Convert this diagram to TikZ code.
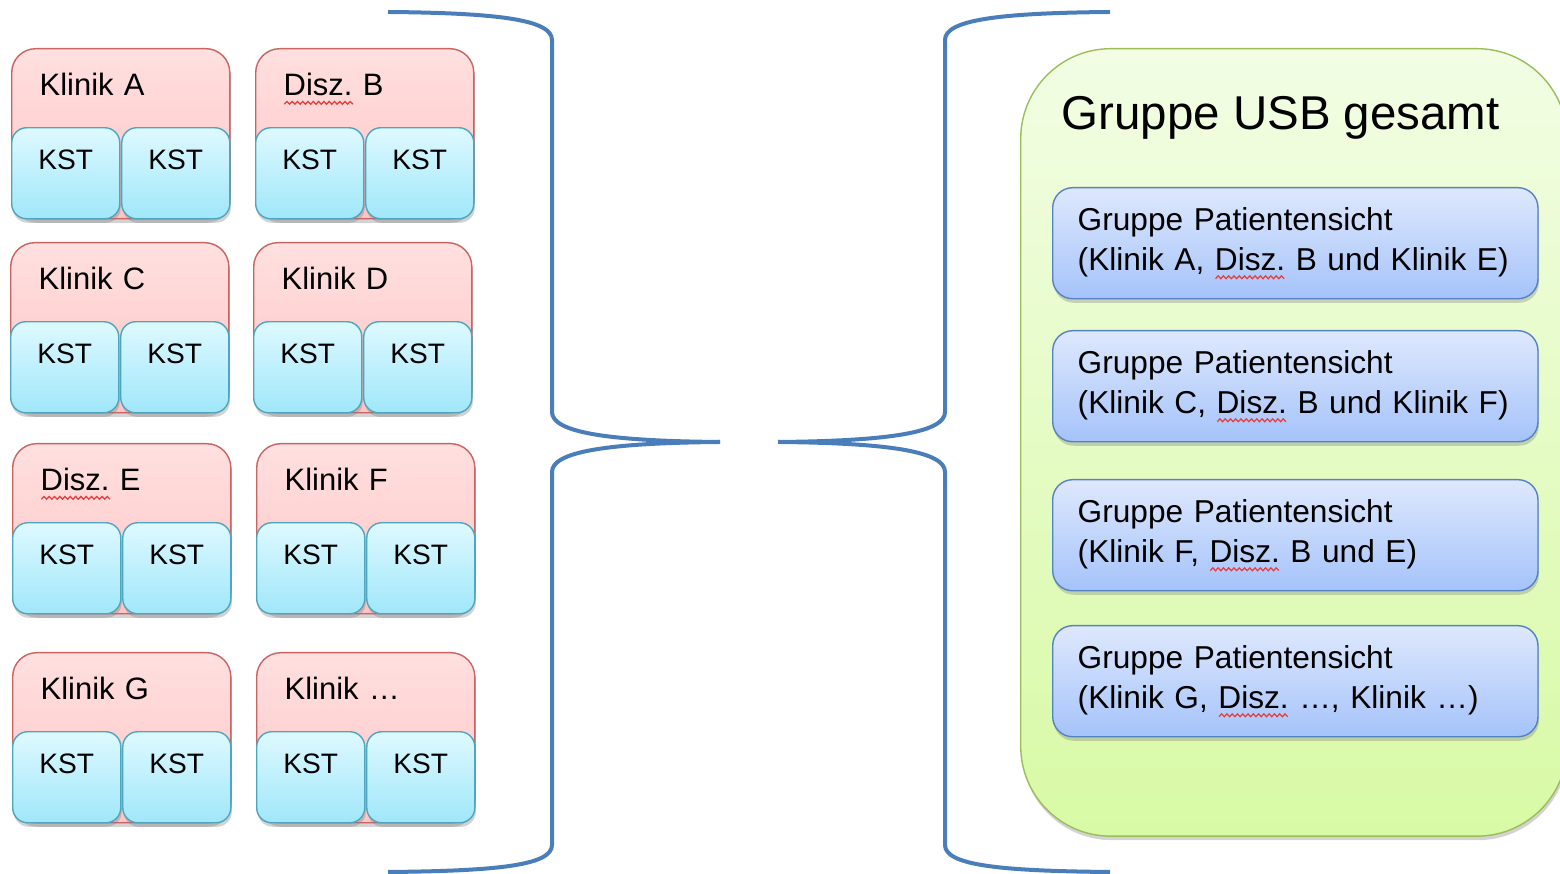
\documentclass[tikz,border=0pt]{standalone}
\usepackage{tikz}
\usepackage{xcolor}
\usepackage{fontspec}
\setmainfont{Liberation Sans}
\usetikzlibrary{positioning, shadows}

\definecolor{klinikoben}{RGB}{255,224,224}
\definecolor{klinikunten}{RGB}{255,196,196}
\definecolor{klinikrand}{RGB}{200,100,98}
\definecolor{kstoben}{RGB}{222,249,255}
\definecolor{kstunten}{RGB}{160,231,250}
\definecolor{kstrand}{RGB}{80,165,190}
\definecolor{gruppeoben}{RGB}{222,232,253}
\definecolor{gruppeunten}{RGB}{165,195,250}
\definecolor{grupperand}{RGB}{85,130,195}
\definecolor{usboben}{RGB}{242,253,228}
\definecolor{usbunten}{RGB}{216,250,165}
\definecolor{usbrand}{RGB}{155,190,90}
\definecolor{klammerblau}{RGB}{74,126,187}
\definecolor{spellrot}{RGB}{230,60,60}

% rote Wellenlinie unter einem Wort
\newsavebox\wellenbox
\sbox\wellenbox{\begin{pgfpicture}
    \pgfsetcolor{spellrot}\pgfsetlinewidth{0.35pt}
    \pgfpathmoveto{\pgfpoint{0pt}{-0.4pt}}
    \foreach \i in {1,...,26}{\pgfpathlineto{\pgfpoint{\i*0.75pt}{(mod(\i,2)-0.5)*0.8pt}}}
    \pgfusepath{stroke}
\end{pgfpicture}}
\newcommand\spell[1]{\rlap{\raisebox{-2.6pt}{\usebox\wellenbox}}#1}
\frenchspacing

\begin{document}
\begin{tikzpicture}[x=0.01cm, y=-0.01cm,
    schatten/.style={drop shadow={shadow xshift=0.01cm, shadow yshift=-0.04cm, opacity=0.35}},
    klinik/.style={rectangle, rounded corners=0.24cm, draw=klinikrand, top color=klinikoben, bottom color=klinikunten,
        minimum width=2.18cm, minimum height=1.70cm, text width=1.62cm, inner xsep=0.28cm, align=left,
        text height=0.25cm, text depth=1.01cm, font=\fontsize{8.8}{10.5}\selectfont, anchor=north west, schatten},
    kst/.style={rectangle, rounded corners=0.15cm, draw=kstrand, top color=kstoben, bottom color=kstunten,
        minimum width=1.08cm, minimum height=0.91cm, inner sep=0pt,
        text height=0.21cm, text depth=0.28cm, font=\fontsize{8}{9.6}\selectfont, schatten},
    usb/.style={rectangle, rounded corners=0.9cm, draw=usbrand, top color=usboben, bottom color=usbunten,
        minimum width=5.46cm, minimum height=7.87cm, anchor=north west, schatten},
    gruppe/.style={rectangle, rounded corners=0.2cm, draw=grupperand, top color=gruppeoben, bottom color=gruppeunten,
        minimum width=4.85cm, minimum height=1.11cm, text width=4.35cm, inner xsep=0.25cm, align=left,
        font=\fontsize{9}{11.4}\selectfont, anchor=north west, schatten},
    klammer/.style={draw=klammerblau, line width=0.04cm}]

    \useasboundingbox (0,0) rectangle (1560,874);
    \clip (0,0) rectangle (1560,874);

    % Klinik A
    \node[klinik] (ka) at (11,48) {Klinik A};
    \node[kst, anchor=south west] (ka1) at (ka.south west) {KST};
    \node[kst, anchor=south east] (ka2) at (ka.south east) {KST};

    % Disz. B
    \node[klinik] (db) at (255,48) {\spell{Disz.} B};
    \node[kst, anchor=south west] (db1) at (db.south west) {KST};
    \node[kst, anchor=south east] (db2) at (db.south east) {KST};

    % Klinik C
    \node[klinik] (kc) at (10,242) {Klinik C};
    \node[kst, anchor=south west] (kc1) at (kc.south west) {KST};
    \node[kst, anchor=south east] (kc2) at (kc.south east) {KST};

    % Klinik D
    \node[klinik] (kd) at (253,242) {Klinik D};
    \node[kst, anchor=south west] (kd1) at (kd.south west) {KST};
    \node[kst, anchor=south east] (kd2) at (kd.south east) {KST};

    % Disz. E
    \node[klinik] (de) at (12,443) {\spell{Disz.} E};
    \node[kst, anchor=south west] (de1) at (de.south west) {KST};
    \node[kst, anchor=south east] (de2) at (de.south east) {KST};

    % Klinik F
    \node[klinik] (kf) at (256,443) {Klinik F};
    \node[kst, anchor=south west] (kf1) at (kf.south west) {KST};
    \node[kst, anchor=south east] (kf2) at (kf.south east) {KST};

    % Klinik G
    \node[klinik] (kg) at (12,652) {Klinik G};
    \node[kst, anchor=south west] (kg1) at (kg.south west) {KST};
    \node[kst, anchor=south east] (kg2) at (kg.south east) {KST};

    % Klinik ...
    \node[klinik] (kx) at (256,652) {Klinik …};
    \node[kst, anchor=south west] (kx1) at (kx.south west) {KST};
    \node[kst, anchor=south east] (kx2) at (kx.south east) {KST};

    % Klammern
    \coordinate (lspitze) at (720,442);
    \coordinate (rspitze) at (778,442);
    \draw[klammer] (388,12) .. controls (500,13) and (552,20) .. (552,40) -- (552,412)
        .. controls (552,432) and (605,441) .. (lspitze);
    \draw[klammer] (lspitze) .. controls (605,443) and (552,452) .. (552,472) -- (552,845)
        .. controls (552,865) and (500,871) .. (388,872);
    \draw[klammer] (1110,12) .. controls (998,13) and (945,20) .. (945,40) -- (945,412)
        .. controls (945,432) and (892,441) .. (rspitze);
    \draw[klammer] (rspitze) .. controls (892,443) and (945,452) .. (945,472) -- (945,845)
        .. controls (945,865) and (998,871) .. (1110,872);

    % Gruppe USB gesamt
    \node[usb] (usb) at (1020,48) {};
    \node[font=\fontsize{13.5}{16}\selectfont, inner sep=0pt, anchor=base west] (titel) at (1061,130) {Gruppe USB gesamt};

    % Gruppen Patientensicht
    \node[gruppe] (g1) at (1052,187) {Gruppe Patientensicht\\(Klinik A, \spell{Disz.} B und Klinik E)};
    \node[gruppe] (g2) at (1052,330) {Gruppe Patientensicht\\(Klinik C, \spell{Disz.} B und Klinik F)};
    \node[gruppe] (g3) at (1052,479) {Gruppe Patientensicht\\(Klinik F, \spell{Disz.} B und E)};
    \node[gruppe] (g4) at (1052,625) {Gruppe Patientensicht\\(Klinik G, \spell{Disz.} …, Klinik …)};
\end{tikzpicture}
\end{document}
